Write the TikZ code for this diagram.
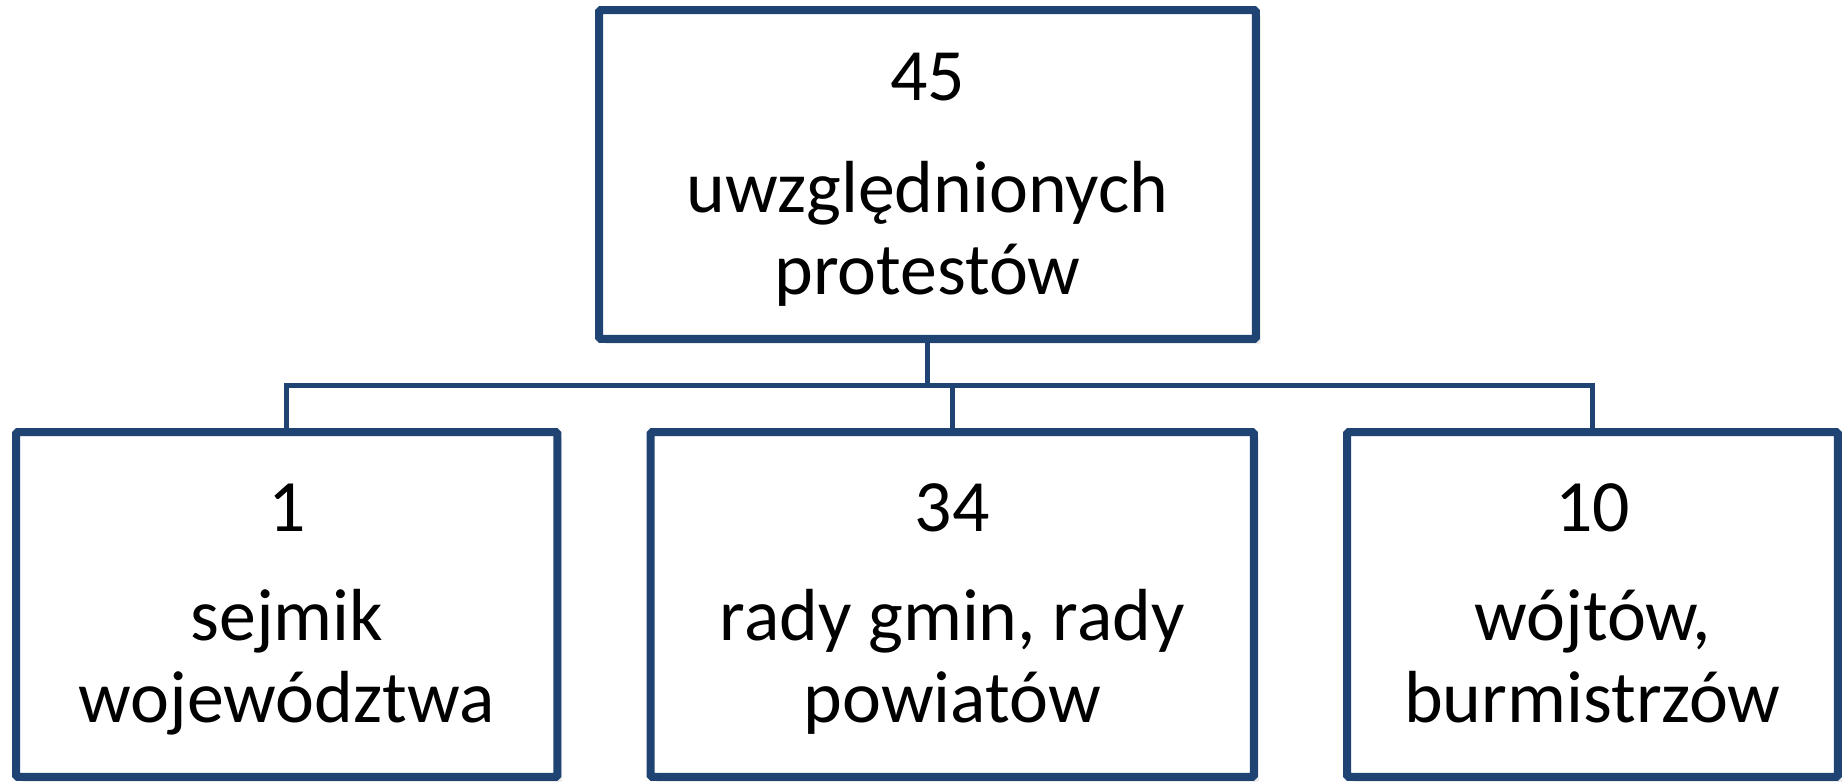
\documentclass[tikz,border=0pt]{standalone}
\usepackage{fontspec}
\setmainfont{Carlito}
\usetikzlibrary{shadows}
\definecolor{boxblue}{RGB}{31,67,114}
\tikzset{
  bx/.style  ={draw=boxblue, line width=0.16cm, fill=white, rounded corners=1pt, inner sep=0pt,
               minimum height=6.9cm, drop shadow={shadow xshift=2.8pt, shadow yshift=-2.8pt, opacity=0.15}},
  num/.style ={anchor=base, font=\fontsize{42}{45}\selectfont},
  lbl/.style ={anchor=base, align=center, font=\fontsize{42}{46.5}\selectfont},
  conn/.style={draw=boxblue, line width=0.1cm}
}
\begin{document}
\begin{tikzpicture}[x=0.02cm, y=-0.02cm]
\useasboundingbox (0,0) rectangle (1842,781);
\node[bx, minimum width=13.14cm, minimum height=6.58cm] (top) at (927.5,174.5) {};
\node[bx, minimum width=10.83cm] (sejm) at (286.75,604.5) {};
\node[bx, minimum width=12.07cm] (rady) at (952.25,604.5) {};
\node[bx, minimum width=9.82cm] (wojt) at (1592.5,604.5) {};
\coordinate (bus) at (0,385);
% connectors
\draw[conn] (top.south) -- (top.south |- bus);
\draw[conn] (sejm.north) -- (sejm.north |- bus) -- (wojt.north |- bus) -- (wojt.north);
\draw[conn] (rady.north) -- (rady.north |- bus);
% texts
\node[num] (ntop) at (927.5,100) {45};
\node[lbl] (ltop) at (927.5,294) {uwzględnionych\\protestów};
\node[num] (nsejm) at (286.75,531) {1};
\node[lbl] (lsejm) at (286.75,722) {sejmik\\województwa};
\node[num] (nrady) at (952.25,531) {34};
\node[lbl] (lrady) at (952.25,722) {rady gmin, rady\\powiatów};
\node[num] (nwojt) at (1592.5,531) {10};
\node[lbl] (lwojt) at (1592.5,722) {wójtów,\\burmistrzów};
\end{tikzpicture}
\end{document}
